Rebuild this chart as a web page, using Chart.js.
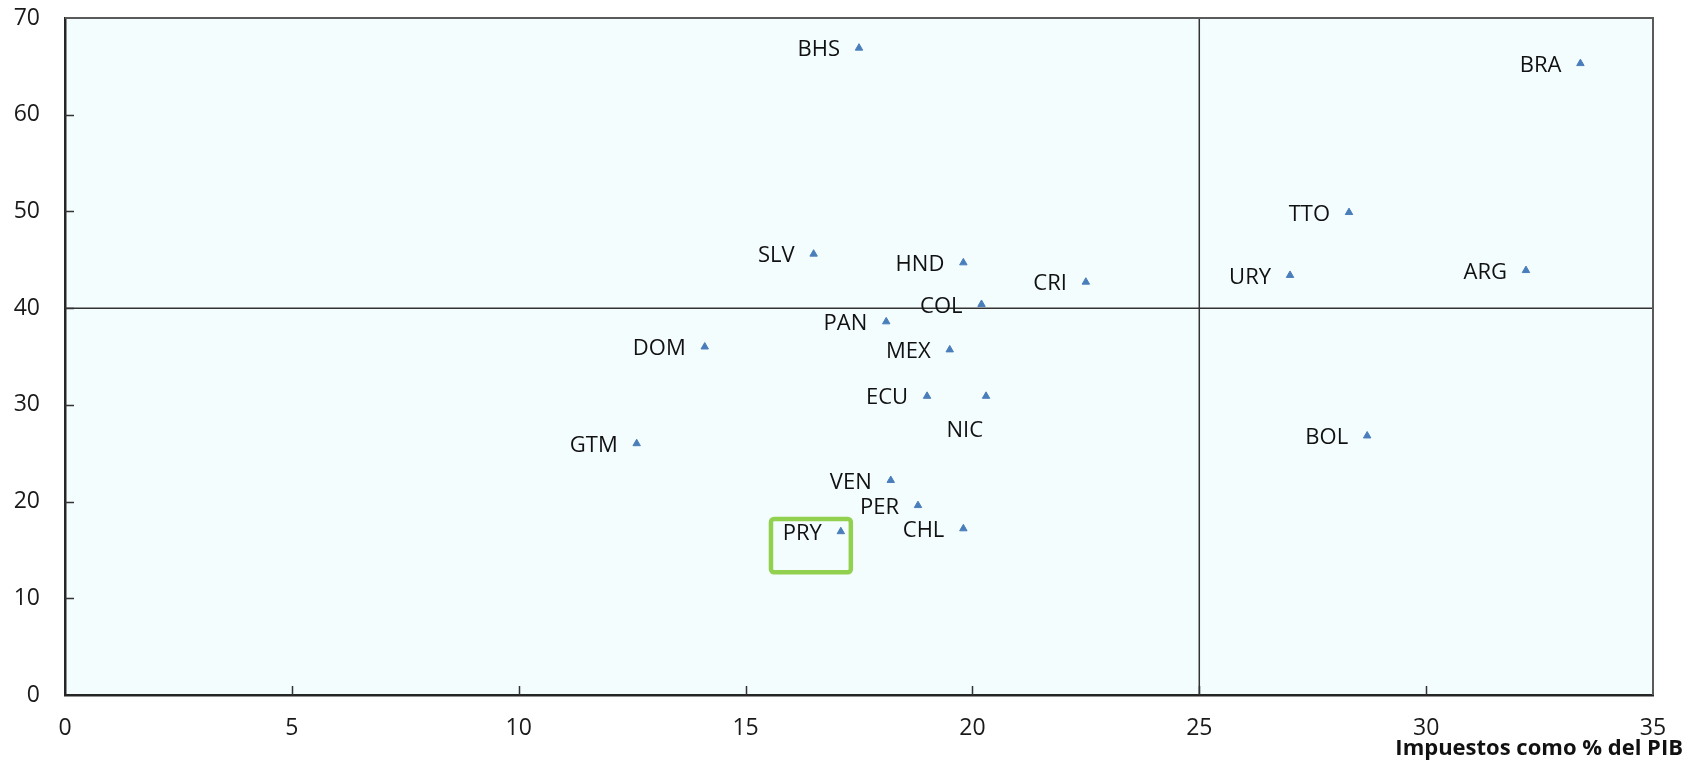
<!DOCTYPE html>
<html>
<head>
<meta charset="utf-8">
<script src="https://cdn.jsdelivr.net/npm/chart.js@4.4.1/dist/chart.umd.min.js"></script>
<style>
  html, body { margin: 0; padding: 0; background: #fff; }
  #wrap { width: 1706px; height: 766px; }
</style>
</head>
<body>
<div id="wrap"><canvas id="scatter" width="1706" height="766"></canvas></div>
<script>
const countries = ['BHS', 'BRA', 'TTO', 'SLV', 'HND', 'URY', 'ARG', 'CRI', 'COL', 'PAN',
                   'DOM', 'MEX', 'ECU', 'NIC', 'BOL', 'GTM', 'VEN', 'PER', 'PRY', 'CHL'];
const taxShare = [17.5, 33.4, 28.3, 16.5, 19.8, 27.0, 32.2, 22.5, 20.2, 18.1,
                  14.1, 19.5, 19.0, 20.3, 28.7, 12.6, 18.2, 18.8, 17.1, 19.8];
const yValues = [66.9, 65.3, 49.9, 45.6, 44.7, 43.4, 43.9, 42.7, 40.4, 38.6,
                 36.0, 35.7, 30.9, 30.9, 26.8, 26.0, 22.2, 19.6, 16.9, 17.2];
const xTicks = [0, 5, 10, 15, 20, 25, 30, 35];
const yTicks = [0, 10, 20, 30, 40, 50, 60, 70];
const refX = 25;
const refY = 40;
const highlight = { code: 'PRY', xMin: 15.56, xMax: 17.32, yMin: 12.7, yMax: 18.2 };
const xTitle = 'Impuestos como % del PIB';

// labels sit left of the marker, except NIC which is dropped below it
const labelBelow = ['NIC'];

const FONT = '"Open Sans", "DejaVu Sans", sans-serif';

const points = countries.map((c, i) => ({ x: taxShare[i], y: yValues[i], code: c }));

const plotBg = {
    id: 'plotBg',
    beforeDraw(chart) {
        const { ctx, chartArea: a } = chart;
        ctx.save();
        ctx.fillStyle = '#f4fdfe';
        ctx.fillRect(a.left, a.top, a.right - a.left, a.bottom - a.top);
        ctx.restore();
    }
};

const frame = {
    id: 'frame',
    afterDatasetsDraw(chart) {
        const { ctx, chartArea: a, scales: { x, y } } = chart;
        ctx.save();
        // top and right edges
        ctx.strokeStyle = '#5a5a5a';
        ctx.lineWidth = 2;
        ctx.beginPath();
        ctx.moveTo(a.left, a.top);
        ctx.lineTo(a.right, a.top);
        ctx.lineTo(a.right, a.bottom);
        ctx.stroke();
        // inward tick marks
        ctx.strokeStyle = '#333';
        ctx.lineWidth = 1.5;
        ctx.beginPath();
        xTicks.slice(1, -1).forEach(v => {
            const px = Math.round(x.getPixelForValue(v)) + 0.5;
            ctx.moveTo(px, a.bottom);
            ctx.lineTo(px, a.bottom - 9);
        });
        yTicks.slice(1, -1).forEach(v => {
            const py = Math.round(y.getPixelForValue(v)) + 0.5;
            ctx.moveTo(a.left, py);
            ctx.lineTo(a.left + 9, py);
        });
        ctx.stroke();

        // highlight box round PRY
        const bx1 = x.getPixelForValue(highlight.xMin), bx2 = x.getPixelForValue(highlight.xMax);
        const by1 = y.getPixelForValue(highlight.yMax), by2 = y.getPixelForValue(highlight.yMin);
        ctx.strokeStyle = '#92d050';
        ctx.lineWidth = 4.5;
        ctx.beginPath();
        ctx.roundRect(bx1, by1, bx2 - bx1, by2 - by1, 3);
        ctx.stroke();

        // country codes
        const meta = chart.getDatasetMeta(0);
        ctx.fillStyle = '#111';
        ctx.font = `22px ${FONT}`;
        ctx.textBaseline = 'middle';
        ctx.textAlign = 'right';
        meta.data.forEach((el, i) => {
            const code = countries[i];
            if (labelBelow.includes(code)) {
                ctx.fillText(code, el.x - 3, el.y + 35);
            } else {
                ctx.fillText(code, el.x - 19, el.y + 2);
            }
        });

        // axis title, bottom right
        ctx.font = `bold 22px ${FONT}`;
        ctx.fillStyle = '#111';
        ctx.fillText(xTitle, a.right + 30, 749);
        ctx.restore();
    }
};

new Chart(document.getElementById('scatter'), {
    type: 'scatter',
    data: {
        datasets: [
            {
                data: points,
                pointStyle: 'triangle',
                pointRadius: 4.3,
                pointBackgroundColor: '#4a7ebb',
                pointBorderColor: '#4a7ebb',
                pointBorderWidth: 1,
                order: 0
            },
            {
                data: [{ x: refX, y: yTicks[0] }, { x: refX, y: yTicks[yTicks.length - 1] }],
                showLine: true,
                borderColor: '#333',
                borderWidth: 1.5,
                pointRadius: 0,
                order: 1
            },
            {
                data: [{ x: xTicks[0], y: refY }, { x: xTicks[xTicks.length - 1], y: refY }],
                showLine: true,
                borderColor: '#333',
                borderWidth: 1.5,
                pointRadius: 0,
                order: 1
            }
        ]
    },
    options: {
        responsive: false,
        animation: false,
        layout: { padding: { left: 0, top: 18, right: 53, bottom: 0 } },
        plugins: {
            legend: { display: false },
            tooltip: { enabled: false }
        },
        scales: {
            x: {
                type: 'linear',
                min: 0,
                max: 35,
                afterFit: s => { s.height = 71; s.paddingLeft = 0; s.paddingRight = 0; },
                afterBuildTicks: s => { s.ticks = xTicks.map(v => ({ value: v })); },
                grid: { display: false, drawTicks: false },
                border: { display: true, color: '#262626', width: 2.5 },
                ticks: {
                    padding: 20,
                    color: '#1a1a1a',
                    font: { family: FONT, size: 23 },
                    maxRotation: 0
                }
            },
            y: {
                type: 'linear',
                min: 0,
                max: 70,
                afterFit: s => { s.width = 65; s.paddingTop = 0; s.paddingBottom = 0; },
                afterBuildTicks: s => { s.ticks = yTicks.map(v => ({ value: v })); },
                grid: { display: false, drawTicks: false },
                border: { display: true, color: '#262626', width: 2.5 },
                ticks: {
                    padding: 25,
                    color: '#1a1a1a',
                    font: { family: FONT, size: 23 }
                }
            }
        }
    },
    plugins: [plotBg, frame]
});
</script>
</body>
</html>
